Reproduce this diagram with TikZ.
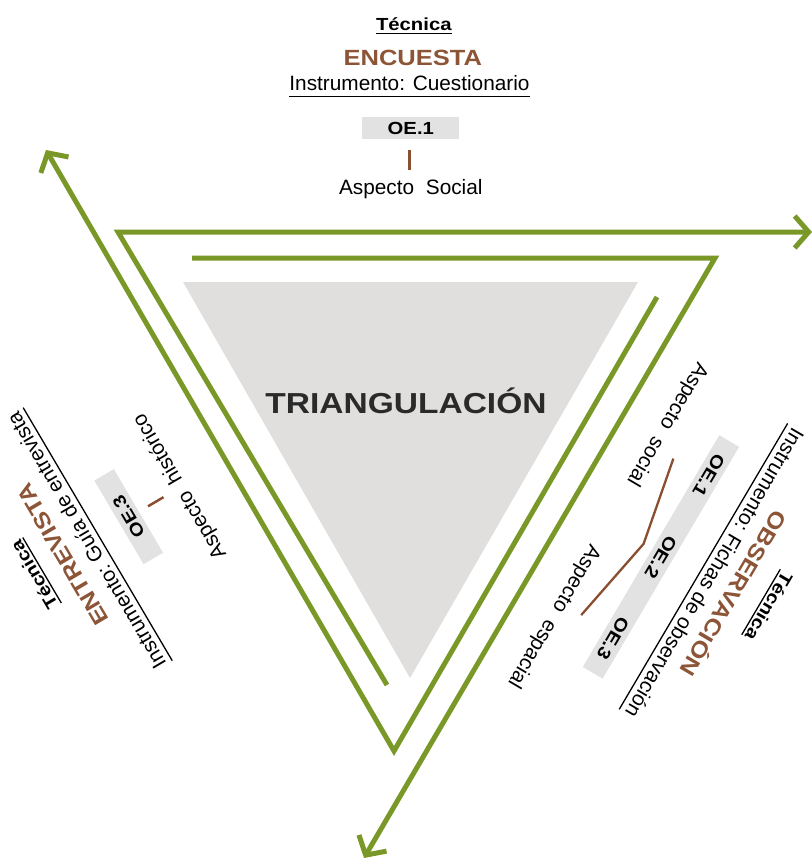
\documentclass[tikz,border=0pt]{standalone}
\usepackage{fontspec}
\setmainfont{Liberation Sans}
\newfontfamily\wbf[FakeStretch=1.16]{Liberation Sans Bold}
\usetikzlibrary{arrows.meta,calc}
\definecolor{grn}{HTML}{7A9828}
\definecolor{brn}{HTML}{8C5537}
\definecolor{brnline}{HTML}{8A4E30}
\definecolor{tri}{HTML}{E1DFDD}
\definecolor{oebox}{HTML}{E2E2E2}
\definecolor{dark}{HTML}{2A2A2A}
\newcommand\ulnode[2]{\draw[ulstyle] ($(#1.base west)!#2!-90:(#1.base east)$) -- ($(#1.base east)!#2!90:(#1.base west)$);}
\begin{document}
\begin{tikzpicture}[x=1pt,y=-1pt,
  gline/.style={draw=grn, line width=5pt},
  garrow/.style={gline, -{Straight Barb[length=14pt,width=32pt]}},
  reg/.style={inner sep=0pt, anchor=base, font=\fontsize{20.8}{24}\selectfont},
  tec/.style={inner sep=0pt, anchor=base, font=\wbf\fontsize{17.5}{20}\selectfont},
  big/.style={inner sep=0pt, anchor=base, text=brn, font=\wbf\fontsize{22}{26}\selectfont},
  oe/.style={fill=oebox, inner sep=0pt, minimum width=97pt, minimum height=22.6pt, font=\wbf\fontsize{17.5}{20}\selectfont},
  oelab/.style={inner sep=0pt, font=\wbf\fontsize{17.5}{20}\selectfont},
  ulstyle/.style={draw=black, line width=1.3pt},
  bline/.style={draw=brnline, line width=2.5pt},
]
\useasboundingbox (0,0) rectangle (811,861);

% central triangle
\fill[tri] (183,282) -- (638,282) -- (410,678) -- cycle;
\node[inner sep=0pt, anchor=base, text=dark, font=\wbf\fontsize{28.9}{32}\selectfont] (tr) at (406,413.3) {TRIANGULACIÓN};

% green bent arrows
\coordinate (A0) at (387,685);
\coordinate (A1) at (118,232);
\coordinate (A2) at (812,232);
\coordinate (B0) at (192,258);
\coordinate (B1) at (715,258);
\coordinate (B2) at (364,858);
\coordinate (C0) at (657,297);
\coordinate (C1) at (394,751);
\coordinate (C2) at (46,150);
\draw[garrow] (A0) -- (A1) -- (A2);
\draw[garrow] (B0) -- (B1) -- (B2);
\draw[garrow] (C0) -- (C1) -- (C2);

% top block: ENCUESTA
\begin{scope}[shift={(410.8,186.7)}]
  \node[tec] (t1) at (3,-156) {Técnica};
  \ulnode{t1}{3pt}
  \node[big] (e1) at (2,-121) {ENCUESTA};
  \node[reg] (i1) at (-1.3,-96) {Instrumento: Cuestionario};
  \ulnode{i1}{6pt}
  \node[oe] (o1) at (0,-58.7) {OE.1};
  \coordinate (l1a) at (-1.5,-36.7);
  \coordinate (l1b) at (-1.5,-16.7);
  \draw[bline] (l1a) -- (l1b);
  \node[reg] (a1) at (0,7.6) {Aspecto\hspace{0.56em}Social};
\end{scope}

% left block: ENTREVISTA
\begin{scope}[shift={(178.5,487.3)}, rotate=120.5, transform shape]
  \node[tec] (t3) at (-2.2,-162.7) {Técnica};
  \ulnode{t3}{3pt}
  \node[big] (e3) at (0.6,-126.4) {ENTREVISTA};
  \node[reg] (i3) at (0.6,-99.4) {Instrumento: Guía de entrevista};
  \ulnode{i3}{6pt}
  \node[oe] (o3) at (0,-57.8) {OE.3};
  \coordinate (l3a) at (-0.9,-35.9);
  \coordinate (l3b) at (-0.9,-17.9);
  \draw[bline] (l3a) -- (l3b);
  \node[reg] (a3) at (0,7.5) {Aspecto\hspace{0.56em}histórico};
\end{scope}

% right block: OBSERVACION
\begin{scope}[shift={(609.3,526)}, rotate=-120.5, transform shape]
  \node[tec] (t2) at (-11.5,-172.3) {Técnica};
  \ulnode{t2}{3pt}
  \node[big] (e2) at (-5,-133.1) {OBSERVACIÓN};
  \node[reg] (i2) at (-13,-107.6) {Instrumento: Fichas de observación};
  \ulnode{i2}{6pt}
  \node[oe, minimum width=269pt, minimum height=23pt] (o2) at (0.4,-60.2) {};
  \node[oelab] (o2a) at (-94,-60.2) {OE.1};
  \node[oelab] (o2b) at (0.6,-60.2) {OE.2};
  \node[oelab] (o2c) at (95,-60.2) {OE.3};
  \coordinate (z1) at (-90.6,-21);
  \coordinate (z2) at (-2,-38.6);
  \coordinate (z3) at (91,-21);
  \draw[bline, line width=2.3pt] (z1) -- (z2) -- (z3);
  \node[reg] (a2s) at (-117,7.5) {Aspecto\hspace{0.56em}social};
  \node[reg] (a2e) at (106,7.5) {Aspecto\hspace{0.56em}espacial};
\end{scope}
\end{tikzpicture}
\end{document}
